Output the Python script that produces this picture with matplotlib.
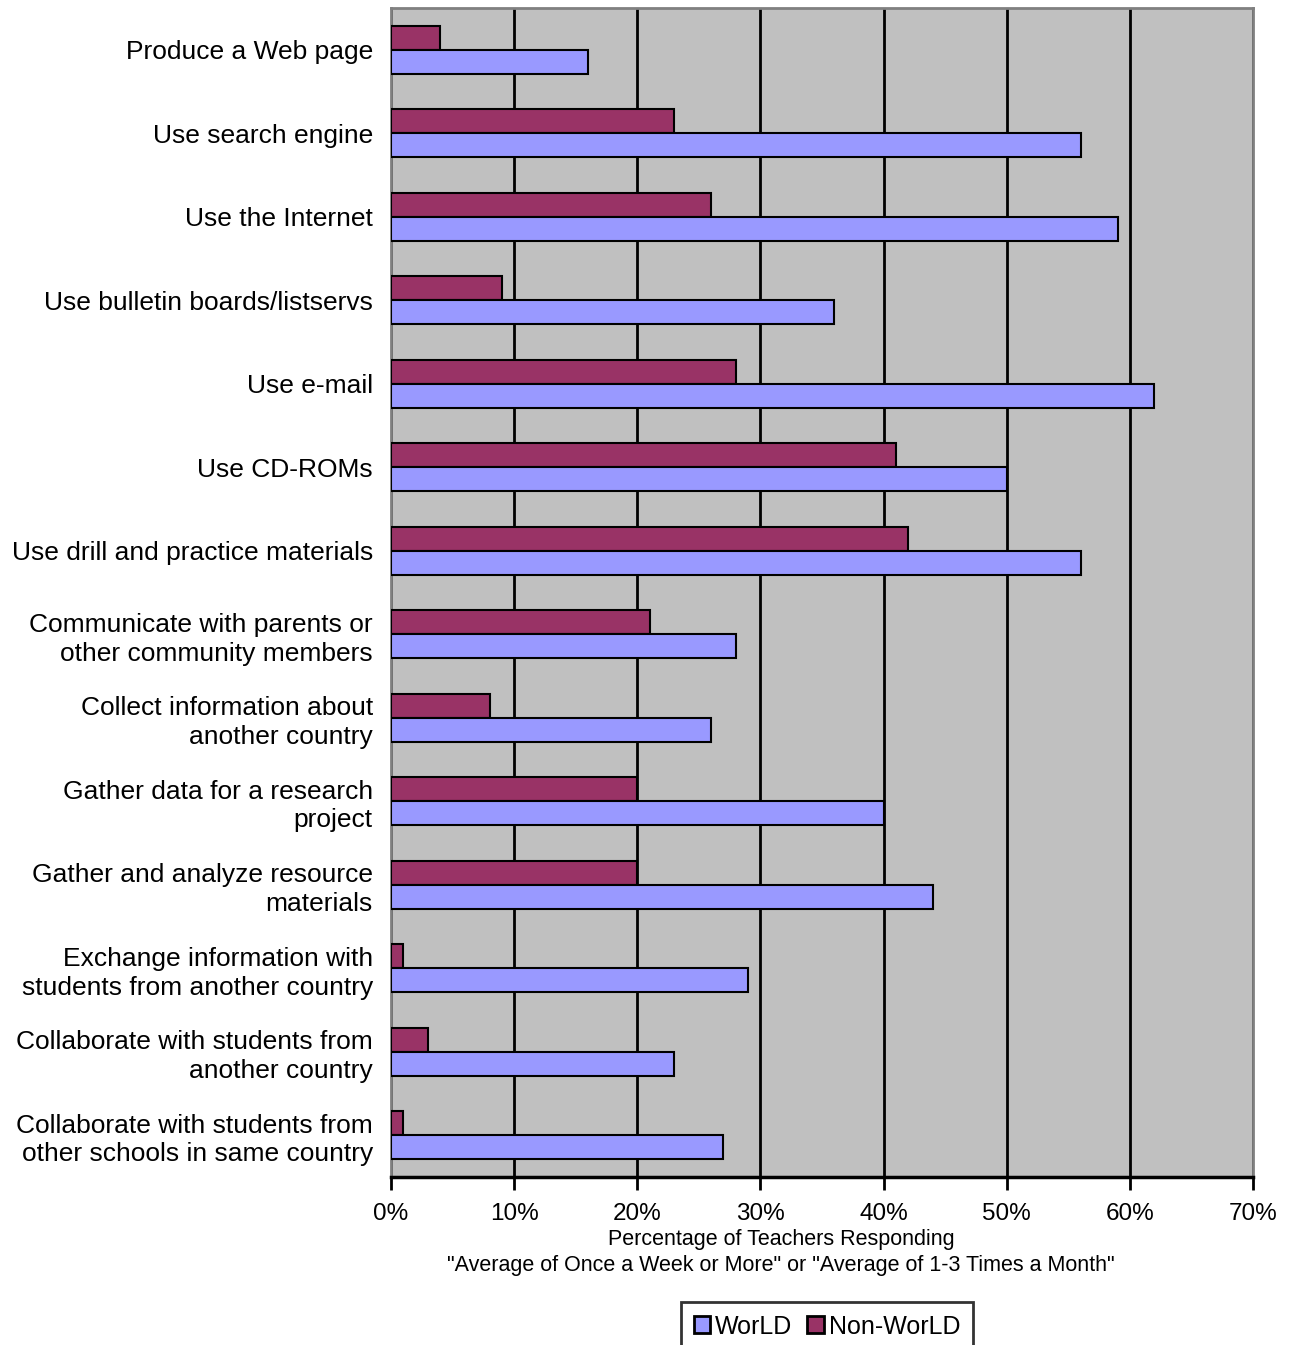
import numpy as np
import matplotlib
matplotlib.use("Agg")
import matplotlib.pyplot as plt
from matplotlib.ticker import FuncFormatter

plt.rcParams["font.family"] = ["Liberation Sans", "DejaVu Sans"]

# Data (top to bottom)
categories = [
    "Produce a Web page",
    "Use search engine",
    "Use the Internet",
    "Use bulletin boards/listservs",
    "Use e-mail",
    "Use CD-ROMs",
    "Use drill and practice materials",
    "Communicate with parents or\nother community members",
    "Collect information about\nanother country",
    "Gather data for a research\nproject",
    "Gather and analyze resource\nmaterials",
    "Exchange information with\nstudents from another country",
    "Collaborate with students from\nanother country",
    "Collaborate with students from\nother schools in same country",
]
world = [16, 56, 59, 36, 62, 50, 56, 28, 26, 40, 44, 29, 23, 27]
non_world = [4, 23, 26, 9, 28, 41, 42, 21, 8, 20, 20, 1, 3, 1]

C_WORLD = "#9999FF"
C_NON = "#993366"
BG = "#C0C0C0"

fig = plt.figure(figsize=(12.9, 13.45), dpi=100, facecolor="white")
ax = fig.add_axes([391 / 1290, 1 - 1177 / 1345, (1253 - 391) / 1290, (1177 - 8) / 1345])
ax.set_facecolor(BG)

y = np.arange(len(categories))
h = 0.29
ax.barh(y - h / 2, non_world, height=h, color=C_NON, edgecolor="black", linewidth=1.5,
        label="Non-WorLD", zorder=3)
ax.barh(y + h / 2, world, height=h, color=C_WORLD, edgecolor="black", linewidth=1.5,
        label="WorLD", zorder=3)

ax.set_xlim(0, 70)
ax.set_ylim(len(categories) - 0.5, -0.5)
ax.set_xticks(np.arange(0, 71, 10))
ax.xaxis.set_major_formatter(FuncFormatter(lambda v, p: f"{int(v)}%"))
ax.xaxis.grid(True, color="black", linewidth=2, zorder=1)
ax.set_axisbelow(True)

ax.set_yticks(y)
ax.set_yticklabels(categories, fontsize=19, linespacing=1.25)
ax.tick_params(axis="y", length=0, pad=13)
ax.tick_params(axis="x", length=9, width=2, direction="out", labelsize=17.5, pad=10)

for side in ["top", "left", "right"]:
    ax.spines[side].set_color("#808080")
    ax.spines[side].set_linewidth(2)
ax.spines["bottom"].set_color("black")
ax.spines["bottom"].set_linewidth(2.5)

fig.text(781 / 1290, 1 - 1239 / 1345, "Percentage of Teachers Responding",
         ha="center", va="center", fontsize=15.5)
fig.text(781 / 1290, 1 - 1266 / 1345,
         "\"Average of Once a Week or More\" or \"Average of 1-3 Times a Month\"",
         ha="center", va="center", fontsize=15.5)

handles, labels = ax.get_legend_handles_labels()
leg = fig.legend(handles[::-1], labels[::-1], loc="upper center",
                 bbox_to_anchor=(827 / 1290, 1 - 1302 / 1345), ncol=2,
                 fontsize=18, frameon=True, fancybox=False, handlelength=0.65,
                 handleheight=0.65, handletextpad=0.2, columnspacing=0.6,
                 borderpad=0.5, borderaxespad=0)
leg.get_frame().set_edgecolor("black")
leg.get_frame().set_linewidth(2)
for patch in leg.get_patches():
    patch.set_linewidth(2)

fig.savefig("out.png", dpi=100, facecolor="white")
